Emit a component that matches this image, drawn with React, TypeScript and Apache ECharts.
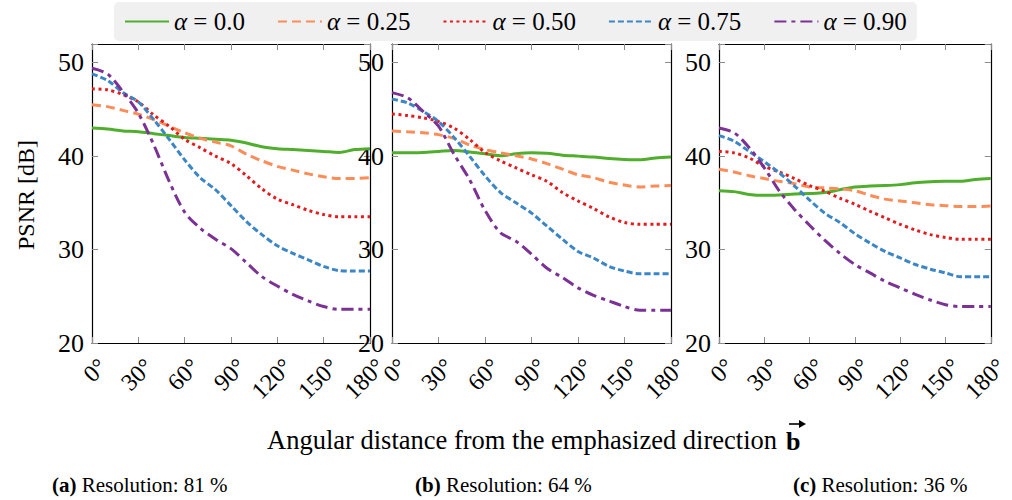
import React, { useEffect, useRef } from "react";
import * as echarts from "echarts";

// Angular distance samples (degrees)
const ANGLES = [0, 10, 20, 30, 40, 50, 60, 70, 80, 90, 100, 110, 120, 130, 140, 150, 160, 170, 180];

const ALPHA_LABELS = ["α = 0.0", "α = 0.25", "α = 0.50", "α = 0.75", "α = 0.90"];
const X_TICKS = [0, 30, 60, 90, 120, 150, 180];
const Y_TICKS = [20, 30, 40, 50];

// (a) Resolution 81 %
const RES81_A000 = [43.0, 42.9, 42.7, 42.6, 42.4, 42.2, 42.0, 41.9, 41.8, 41.7, 41.4, 41.0, 40.8, 40.7, 40.6, 40.5, 40.4, 40.7, 40.8];
const RES81_A025 = [45.5, 45.3, 44.9, 44.5, 43.9, 43.2, 42.5, 41.9, 41.5, 41.1, 40.2, 39.5, 38.9, 38.5, 38.1, 37.8, 37.6, 37.6, 37.7];
const RES81_A050 = [47.2, 47.1, 46.6, 45.8, 44.4, 43.2, 41.8, 40.9, 40.0, 39.2, 37.9, 36.5, 35.4, 34.8, 34.2, 33.75, 33.5, 33.5, 33.5];
const RES81_A075 = [48.8, 48.1, 46.8, 45.8, 43.9, 41.8, 39.6, 37.7, 36.4, 34.7, 33.0, 31.6, 30.4, 29.6, 28.9, 28.2, 27.75, 27.7, 27.7];
const RES81_A090 = [49.4, 48.8, 46.9, 44.6, 41.2, 37.3, 34.0, 32.3, 31.1, 30.1, 28.6, 27.1, 26.1, 25.2, 24.5, 23.9, 23.6, 23.6, 23.6];

// (b) Resolution 64 %
const RES64_A000 = [40.35, 40.35, 40.4, 40.5, 40.6, 40.45, 40.25, 40.05, 40.25, 40.35, 40.3, 40.1, 40.0, 39.9, 39.75, 39.65, 39.6, 39.8, 39.9];
const RES64_A025 = [42.7, 42.6, 42.5, 42.3, 41.9, 41.2, 40.7, 40.35, 40.05, 39.7, 39.2, 38.6, 38.0, 37.7, 37.2, 36.9, 36.7, 36.8, 36.85];
const RES64_A050 = [44.5, 44.35, 44.1, 43.7, 43.0, 41.8, 40.4, 39.5, 38.75, 38.0, 37.3, 36.1, 35.2, 34.4, 33.5, 32.9, 32.7, 32.7, 32.7];
const RES64_A075 = [46.1, 45.7, 44.8, 43.7, 42.0, 40.0, 37.9, 36.1, 35.0, 33.9, 32.5, 31.1, 29.8, 29.1, 28.2, 27.7, 27.4, 27.4, 27.4];
const RES64_A090 = [46.8, 46.25, 44.8, 43.2, 40.2, 37.5, 34.2, 31.8, 30.9, 29.5, 28.0, 27.0, 25.9, 25.1, 24.5, 23.9, 23.5, 23.5, 23.5];

// (c) Resolution 36 %
const RES36_A000 = [36.3, 36.2, 35.9, 35.8, 35.85, 35.95, 36.0, 36.1, 36.4, 36.7, 36.8, 36.85, 36.95, 37.15, 37.25, 37.3, 37.3, 37.5, 37.6];
const RES36_A025 = [38.6, 38.3, 37.9, 37.6, 37.3, 37.05, 36.7, 36.6, 36.5, 36.3, 35.8, 35.4, 35.2, 35.0, 34.8, 34.7, 34.6, 34.6, 34.65];
const RES36_A050 = [40.5, 40.35, 39.8, 38.9, 38.3, 37.6, 36.85, 36.25, 35.5, 34.85, 34.1, 33.4, 32.7, 32.1, 31.6, 31.3, 31.1, 31.1, 31.1];
const RES36_A075 = [42.2, 41.6, 40.5, 39.4, 38.2, 36.8, 35.3, 33.9, 32.9, 31.7, 30.7, 29.8, 29.1, 28.4, 27.9, 27.5, 27.1, 27.1, 27.1];
const RES36_A090 = [43.0, 42.5, 40.9, 38.75, 36.25, 34.3, 32.6, 31.0, 29.6, 28.4, 27.5, 26.6, 25.9, 25.2, 24.6, 24.1, 23.9, 23.9, 23.9];

const PANEL_LETTERS = ["(a)", "(b)", "(c)"];
const RESOLUTIONS = ["81", "64", "36"];
const PANEL_SERIES = [
  [RES81_A000, RES81_A025, RES81_A050, RES81_A075, RES81_A090],
  [RES64_A000, RES64_A025, RES64_A050, RES64_A075, RES64_A090],
  [RES36_A000, RES36_A025, RES36_A050, RES36_A075, RES36_A090],
];

const SERIF = "Liberation Serif";

const LINE_STYLES: { color: string; type: any }[] = [
  { color: "#4fae2c", type: "solid" },
  { color: "#fc8d59", type: [9, 5] },
  { color: "#e41a1c", type: [3, 3.5] },
  { color: "#3b86c6", type: [6, 3] },
  { color: "#7b3294", type: [12, 5, 4, 5] },
];

const GRID_LEFT = [92, 392, 719];
const GRID_WIDTH = [278, 279, 277];
const GRID_TOP = 44;
const GRID_HEIGHT = 299;
const CAPTION_X = [52, 415, 793];

export default function App() {
  const ref = useRef<HTMLDivElement>(null);

  useEffect(() => {
    if (!ref.current) return;
    const chart = echarts.init(ref.current, undefined, { renderer: "svg" });

    const axisLine = { show: true, onZero: false, lineStyle: { color: "#000", width: 1.2 } };
    const axisTick = { show: true, inside: true, length: 6, lineStyle: { color: "#8c8c8c", width: 1 } };

    const grids: any[] = [];
    const xAxes: any[] = [];
    const yAxes: any[] = [];
    const series: any[] = [];

    PANEL_SERIES.forEach((panel, i) => {
      grids.push({ left: GRID_LEFT[i], top: GRID_TOP, width: GRID_WIDTH[i], height: GRID_HEIGHT });
      const xBase = {
        type: "value",
        gridIndex: i,
        min: X_TICKS[0],
        max: X_TICKS[X_TICKS.length - 1],
        interval: 30,
        axisLine,
        axisTick,
        splitLine: { show: false },
      };
      xAxes.push({
        ...xBase,
        position: "bottom",
        axisLabel: {
          rotate: 45,
          margin: 9,
          align: "right",
          verticalAlign: "top",
          padding: [3, 0, 0, 0],
          fontSize: 24,
          fontFamily: SERIF,
          color: "#000",
          formatter: (v: number) => `${v}°`,
        },
      });
      xAxes.push({ ...xBase, position: "top", axisLabel: { show: false } });

      const yBase = {
        type: "value",
        gridIndex: i,
        min: Y_TICKS[0],
        max: 52,
        interval: 10,
        axisLine,
        axisTick,
        splitLine: { show: false },
      };
      yAxes.push({
        ...yBase,
        position: "left",
        axisLabel: {
          margin: 8,
          fontSize: 26,
          fontFamily: SERIF,
          color: "#000",
          formatter: (v: number) => (Y_TICKS.includes(v) ? String(v) : ""),
        },
      });
      yAxes.push({ ...yBase, position: "right", axisLabel: { show: false } });

      panel.forEach((values, k) => {
        series.push({
          type: "line",
          name: ALPHA_LABELS[k],
          xAxisIndex: 2 * i,
          yAxisIndex: 2 * i,
          data: ANGLES.map((a, j) => [a, values[j]]),
          symbol: "none",
          smooth: 0.3,
          lineStyle: { color: LINE_STYLES[k].color, width: 3, type: LINE_STYLES[k].type, cap: "butt" },
          itemStyle: { color: LINE_STYLES[k].color },
          z: 2 + k,
        });
      });
    });

    const graphic: any[] = [
      {
        type: "text",
        x: 26,
        y: 195,
        rotation: Math.PI / 2,
        style: {
          text: "PSNR [dB]",
          fontSize: 24,
          fontFamily: SERIF,
          fill: "#000",
          align: "center",
          verticalAlign: "middle",
        },
      },
      {
        type: "text",
        x: 777,
        y: 440,
        style: {
          text: "Angular distance from the emphasized direction",
          fontSize: 26.5,
          fontFamily: SERIF,
          fill: "#000",
          align: "right",
          verticalAlign: "middle",
        },
      },
      {
        type: "text",
        x: 786,
        y: 441,
        style: { text: "b", fontSize: 26, fontWeight: "bold", fontFamily: SERIF, fill: "#000", align: "left", verticalAlign: "middle" },
      },
      // vector arrow over the bold b
      {
        type: "line",
        shape: { x1: 789, y1: 424, x2: 801, y2: 424 },
        style: { stroke: "#000", lineWidth: 1.6 },
      },
      {
        type: "polygon",
        shape: { points: [[806, 424], [799, 420], [799, 428]] },
        style: { fill: "#000" },
      },
    ];

    PANEL_LETTERS.forEach((letter, i) => {
      graphic.push({
        type: "text",
        x: CAPTION_X[i],
        y: 485,
        style: {
          text: `{b|${letter}} Resolution: ${RESOLUTIONS[i]} %`,
          fontSize: 21,
          fontFamily: SERIF,
          fill: "#000",
          verticalAlign: "middle",
          rich: { b: { fontSize: 21, fontFamily: SERIF, fontWeight: "bold", fill: "#000" } },
        },
      });
    });

    chart.setOption({
      animation: false,
      backgroundColor: "#fff",
      legend: {
        data: ALPHA_LABELS,
        left: 114,
        top: 2,
        padding: [7, 10],
        itemGap: 32,
        itemWidth: 44,
        itemHeight: 14,
        selectedMode: false,
        backgroundColor: "#f0f0f0",
        borderRadius: 5,
        itemStyle: { opacity: 0 },
        textStyle: {
          fontFamily: SERIF,
          fontSize: 25,
          color: "#000",
          rich: { i: { fontFamily: SERIF, fontSize: 25, fontStyle: "italic", color: "#000" } },
        },
        formatter: (name: string) => name.replace("α", "{i|α}"),
      },
      grid: grids,
      xAxis: xAxes,
      yAxis: yAxes,
      series,
      graphic,
    });

    return () => chart.dispose();
  }, []);

  return <div ref={ref} style={{ position: "fixed", left: 0, top: 0, width: 1012, height: 500 }} />;
}
